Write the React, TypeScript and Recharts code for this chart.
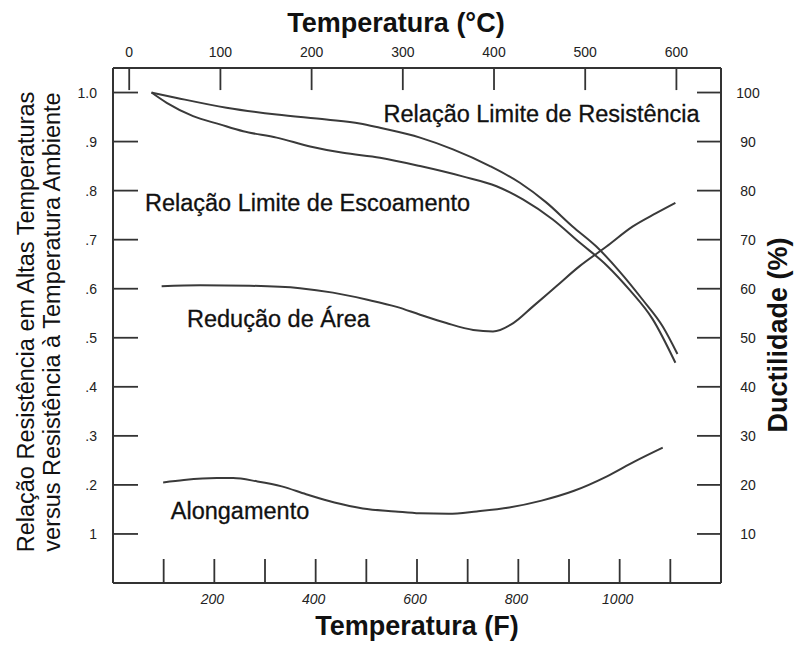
import { LineChart, Line, XAxis, YAxis, ReferenceDot, ReferenceLine } from "recharts";

// Relação Limite de Resistência (temperatura F, razão)
const resistenciaF = [76, 126, 224, 323, 421, 487, 527, 606, 671, 744, 803, 855, 907, 954, 1000, 1045, 1085, 1114];
const resistenciaRazao = [1.0, 0.989, 0.969, 0.955, 0.945, 0.937, 0.928, 0.908, 0.884, 0.85, 0.816, 0.776, 0.727, 0.686, 0.635, 0.578, 0.523, 0.467];

// Relação Limite de Escoamento
const escoamentoF = [76, 106, 158, 211, 257, 323, 389, 454, 527, 606, 690, 757, 809, 868, 921, 974, 1020, 1065, 1110];
const escoamentoRazao = [1.0, 0.979, 0.952, 0.935, 0.921, 0.908, 0.89, 0.877, 0.867, 0.85, 0.829, 0.809, 0.782, 0.741, 0.694, 0.648, 0.597, 0.538, 0.449];

// Redução de Área (%)
const reducaoF = [96, 172, 270, 369, 434, 500, 560, 606, 658, 711, 750, 790, 829, 875, 921, 974, 1026, 1072, 1110];
const reducaoPct = [60.5, 60.7, 60.6, 60.1, 59.2, 57.8, 56.3, 54.7, 53.0, 51.6, 51.3, 53.0, 56.4, 60.5, 64.6, 68.6, 72.7, 75.4, 77.5];

// Alongamento (%)
const alongamentoF = [99, 140, 205, 237, 285, 333, 381, 437, 493, 557, 605, 662, 718, 782, 846, 910, 974, 1030, 1085];
const alongamentoPct = [20.5, 21.0, 21.4, 21.4, 20.7, 19.7, 18.1, 16.4, 15.2, 14.6, 14.2, 14.1, 14.6, 15.4, 16.8, 18.8, 21.7, 24.8, 27.6];

const fTicks = [100, 200, 300, 400, 500, 600, 700, 800, 900, 1000, 1100];
const fTickLabels = ["", "200", "", "400", "", "600", "", "800", "", "1000", ""];
const cTicks = [0, 100, 200, 300, 400, 500, 600];
const razaoTicks = [0.1, 0.2, 0.3, 0.4, 0.5, 0.6, 0.7, 0.8, 0.9, 1.0];
const razaoTickLabels = ["1", ".2", ".3", ".4", ".5", ".6", ".7", ".8", ".9", "1.0"];
const pctTicks = [10, 20, 30, 40, 50, 60, 70, 80, 90, 100];

const curveLabels = [
  { text: "Relação Limite de Resistência", f: 534, razao: 0.939 },
  { text: "Relação Limite de Escoamento", f: 63, razao: 0.759 },
  { text: "Redução de Área", f: 146, razao: 0.522 },
  { text: "Alongamento", f: 114, razao: 0.131 },
];

const zip = (xs: number[], ys: number[]) => xs.map((f, i) => ({ f, v: ys[i] }));
const toC = (f: number) => ((f - 32) * 5) / 9;
const toF = (c: number) => (c * 9) / 5 + 32;
// the °C axis needs a series bound to it; this one is invisible
const celsiusRows = cTicks.map((c) => ({ c, v: 50 }));

const RAZAO_MAX = 1.05;
const TOP_TICK_LEN = 0.045; // length of the °C tick marks, in ratio units

const FONT = '"Liberation Sans", Arial, sans-serif';
const INK = "#333";

const LeftTick = ({ x, y, payload }: any) => {
  const i = razaoTicks.indexOf(payload.value);
  const X = Number(x), Y = Number(y);
  return (
    <g>
      <line x1={X} x2={X + 25} y1={Y} y2={Y} stroke={INK} strokeWidth={1.8} />
      <text x={X - 16} y={Y + 5} textAnchor="end" fontSize={14} fontFamily={FONT} fill="#222">
        {razaoTickLabels[i]}
      </text>
    </g>
  );
};

const RightTick = ({ x, y, payload }: any) => {
  const X = Number(x), Y = Number(y);
  return (
    <g>
      <line x1={X} x2={X - 24} y1={Y} y2={Y} stroke={INK} strokeWidth={1.8} />
      <text x={X + 27} y={Y + 5} textAnchor="middle" fontSize={14} fontFamily={FONT} fill="#222">
        {payload.value}
      </text>
    </g>
  );
};

const BottomTick = ({ x, y, payload }: any) => {
  const i = fTicks.indexOf(payload.value);
  const X = Number(x), Y = Number(y);
  return (
    <g>
      <line x1={X} x2={X} y1={Y} y2={Y - 24} stroke={INK} strokeWidth={1.8} />
      <text x={X - 2} y={Y + 21} textAnchor="middle" fontSize={14} fontStyle="italic" fontFamily={FONT} fill="#222">
        {fTickLabels[i]}
      </text>
    </g>
  );
};

const TopTick = ({ x, y, payload }: any) => (
  <text x={Number(x)} y={Number(y) - 11} textAnchor="middle" fontSize={14} fontFamily={FONT} fill="#222">
    {payload.value}
  </text>
);

const titleStyle = { fontFamily: FONT, fontWeight: 700, fontSize: 27, fill: "#111" };

export default function App() {
  return (
    <div style={{ position: "absolute", left: 0, top: 0, background: "#fff" }}>
      <LineChart width={796} height={650} margin={{ top: 8, right: 5, bottom: 17, left: 13 }}>
        <XAxis
          xAxisId="f"
          type="number"
          dataKey="f"
          domain={[0, 1200]}
          ticks={fTicks}
          interval={0}
          height={50}
          tickSize={0}
          tickMargin={0}
          tickLine={false}
          axisLine={{ stroke: INK, strokeWidth: 2 }}
          tick={BottomTick}
          allowDataOverflow
          label={(p: any) => (
            <text x={p.viewBox.x + p.viewBox.width / 2} y={p.viewBox.y + 52} textAnchor="middle" style={titleStyle}>
              Temperatura (F)
            </text>
          )}
        />
        <XAxis
          xAxisId="c"
          orientation="top"
          type="number"
          dataKey="c"
          domain={[toC(0), toC(1200)]}
          ticks={cTicks}
          interval={0}
          height={60}
          tickSize={0}
          tickMargin={0}
          tickLine={false}
          axisLine={{ stroke: INK, strokeWidth: 2 }}
          tick={TopTick}
          allowDataOverflow
          label={(p: any) => (
            <text x={p.viewBox.x + 283} y={p.viewBox.y + 24} textAnchor="middle" style={titleStyle}>
              Temperatura (°C)
            </text>
          )}
        />
        <YAxis
          yAxisId="razao"
          type="number"
          domain={[0, RAZAO_MAX]}
          ticks={razaoTicks}
          interval={0}
          width={100}
          tickSize={0}
          tickMargin={0}
          tickLine={false}
          axisLine={{ stroke: INK, strokeWidth: 2 }}
          tick={LeftTick}
          allowDataOverflow
          label={(p: any) => {
            const cy = p.viewBox.y + 254;
            const x1 = p.viewBox.x + 20.5;
            const x2 = p.viewBox.x + 47;
            return (
              <g style={{ fontFamily: FONT, fontSize: 23.5, fill: "#111" }}>
                <text x={x1} y={cy} textAnchor="middle" transform={`rotate(-90 ${x1} ${cy})`}>
                  Relação Resistência em Altas Temperaturas
                </text>
                <text x={x2} y={cy} textAnchor="middle" transform={`rotate(-90 ${x2} ${cy})`}>
                  versus Resistência à Temperatura Ambiente
                </text>
              </g>
            );
          }}
        />
        <YAxis
          yAxisId="pct"
          orientation="right"
          type="number"
          domain={[0, 105]}
          ticks={pctTicks}
          interval={0}
          width={70}
          tickSize={0}
          tickMargin={0}
          tickLine={false}
          axisLine={{ stroke: INK, strokeWidth: 2 }}
          tick={RightTick}
          allowDataOverflow
          label={(p: any) => {
            const x = p.viewBox.x + 66;
            const cy = p.viewBox.y + 267;
            return (
              <text x={x} y={cy} textAnchor="middle" transform={`rotate(-90 ${x} ${cy})`} style={titleStyle}>
                Ductilidade (%)
              </text>
            );
          }}
        />

        <Line xAxisId="c" yAxisId="pct" data={celsiusRows} dataKey="v" stroke="none" strokeWidth={0}
          dot={false} activeDot={false} legendType="none" isAnimationActive={false} />

        {/* inward tick marks of the °C axis, placed on the F scale */}
        {cTicks.map((c) => (
          <ReferenceLine
            key={c}
            xAxisId="f"
            yAxisId="razao"
            ifOverflow="visible"
            segment={[{ x: toF(c), y: RAZAO_MAX }, { x: toF(c), y: RAZAO_MAX - TOP_TICK_LEN }]}
            stroke={INK}
            strokeWidth={1.8}
          />
        ))}

        <Line xAxisId="f" yAxisId="razao" data={zip(resistenciaF, resistenciaRazao)} dataKey="v" type="monotone"
          stroke="#3a3a3a" strokeWidth={2} dot={false} isAnimationActive={false} />
        <Line xAxisId="f" yAxisId="razao" data={zip(escoamentoF, escoamentoRazao)} dataKey="v" type="monotone"
          stroke="#3a3a3a" strokeWidth={2} dot={false} isAnimationActive={false} />
        <Line xAxisId="f" yAxisId="pct" data={zip(reducaoF, reducaoPct)} dataKey="v" type="monotone"
          stroke="#3a3a3a" strokeWidth={2} dot={false} isAnimationActive={false} />
        <Line xAxisId="f" yAxisId="pct" data={zip(alongamentoF, alongamentoPct)} dataKey="v" type="monotone"
          stroke="#3a3a3a" strokeWidth={2} dot={false} isAnimationActive={false} />

        {curveLabels.map((c) => (
          <ReferenceDot
            key={c.text}
            xAxisId="f"
            yAxisId="razao"
            x={c.f}
            y={c.razao}
            r={0}
            shape={(p: any) => (
              <text x={p.cx} y={p.cy} fontFamily={FONT} fontSize={23.5} fill="#111" stroke="#111" strokeWidth={0.3}>
                {c.text}
              </text>
            )}
          />
        ))}
      </LineChart>
    </div>
  );
}
